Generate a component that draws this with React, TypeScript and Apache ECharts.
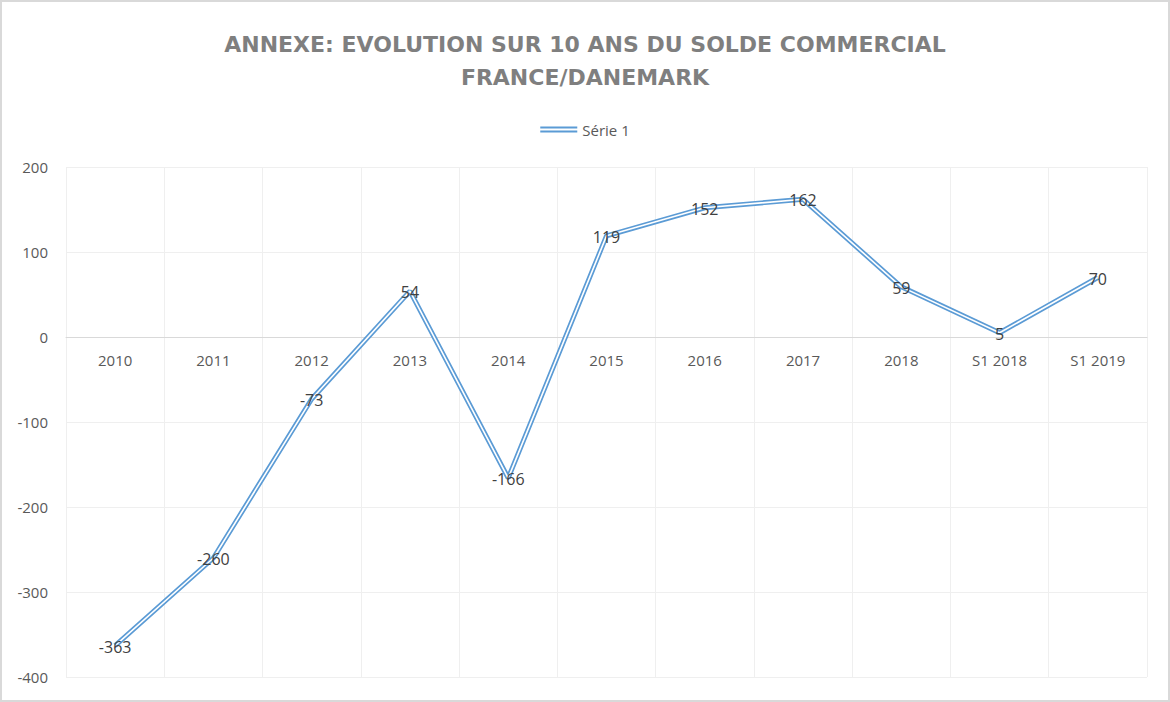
import React, { useEffect, useRef } from "react";
import * as echarts from "echarts";

const categories = ["2010", "2011", "2012", "2013", "2014", "2015", "2016", "2017", "2018", "S1 2018", "S1 2019"];
const serie1 = [-363, -260, -73, 54, -166, 119, 152, 162, 59, 5, 70];
const yTicks = { min: -400, max: 200, interval: 100 };
const titleText = "ANNEXE: EVOLUTION SUR 10 ANS DU SOLDE COMMERCIAL\nFRANCE/DANEMARK";
const seriesName = "Série 1";

export default function App() {
  const ref = useRef<HTMLDivElement>(null);
  useEffect(() => {
    const chart = echarts.init(ref.current!, null, { renderer: "svg" });
    const font = "'Open Sans', 'Liberation Sans', sans-serif";
    chart.setOption({
      animation: false,
      backgroundColor: "#ffffff",
      title: {
        text: titleText,
        left: "center",
        top: 23,
        textStyle: {
          fontFamily: "'DejaVu Sans', sans-serif",
          fontSize: 22,
          fontWeight: "bold",
          color: "#7f7f7f",
          lineHeight: 33,
          align: "center",
        },
      },
      legend: {
        top: 117,
        left: "center",
        itemWidth: 37,
        itemHeight: 6,
        itemGap: 7,
        textStyle: { fontFamily: font, fontSize: 15, color: "#595959" },
        data: [
          {
            name: seriesName,
            icon: "path://M0,0H37V2H0Z M0,4H37V6H0Z",
            itemStyle: { color: "#5b9bd5" },
          },
        ],
      },
      graphic: [
        {
          type: "rect",
          shape: { x: 1, y: 1, width: 1168, height: 700 },
          style: { fill: "none", stroke: "#d9d9d9", lineWidth: 2 },
          silent: true,
        },
      ],
      grid: { left: 66, right: 23, top: 167, bottom: 25, containLabel: false },
      xAxis: {
        type: "category",
        data: categories,
        boundaryGap: true,
        position: "bottom",
        offset: -340,
        axisLine: { onZero: false, lineStyle: { color: "#d9d9d9", width: 1 } },
        axisTick: { show: false },
        axisLabel: { fontFamily: font, fontSize: 15, color: "#595959", margin: 15, interval: 0 },
        splitLine: { show: true, lineStyle: { color: "#efefef", width: 1 } },
      },
      yAxis: {
        type: "value",
        min: yTicks.min,
        max: yTicks.max,
        interval: yTicks.interval,
        axisLine: { show: false },
        axisTick: { show: false },
        axisLabel: { fontFamily: font, fontSize: 15, color: "#595959", margin: 18 },
        splitLine: { show: true, lineStyle: { color: "#efefef", width: 1 } },
      },
      series: [
        {
          name: seriesName,
          type: "line",
          data: serie1,
          symbol: "none",
          lineStyle: { color: "#5b9bd5", width: 5 },
          itemStyle: { color: "#5b9bd5" },
          z: 2,
        },
        {
          name: "inner",
          type: "line",
          data: serie1,
          symbol: "circle",
          symbolSize: 0,
          lineStyle: { color: "#ffffff", width: 1.6 },
          itemStyle: { color: "#ffffff" },
          label: {
            show: true,
            position: "inside",
            offset: [0, 1],
            fontFamily: font,
            fontSize: 16,
            color: "#404040",
          },
          z: 3,
        },
      ],
    });
    return () => chart.dispose();
  }, []);
  return <div ref={ref} style={{ position: "fixed", left: 0, top: 0, width: 1170, height: 702 }} />;
}
